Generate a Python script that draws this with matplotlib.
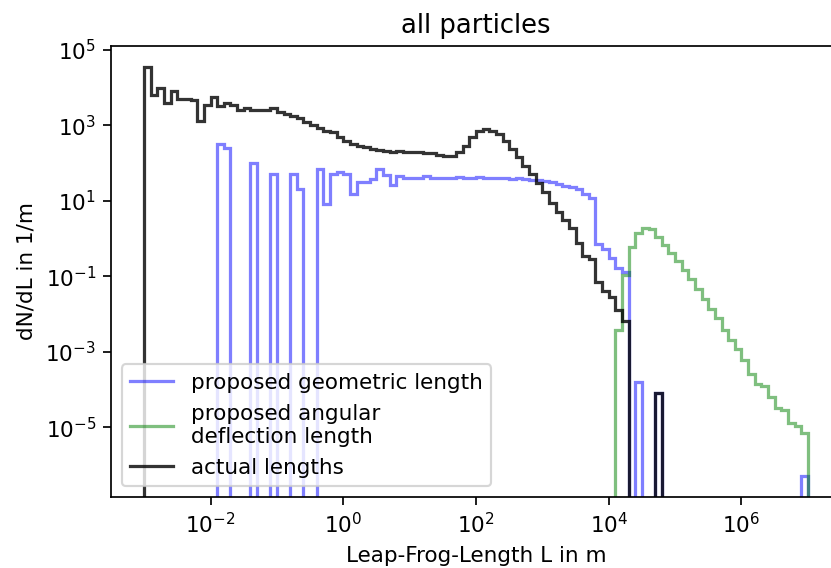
import numpy as np
import matplotlib
matplotlib.use("Agg")
from matplotlib import pyplot as plt
from matplotlib.ticker import NullLocator

# log-spaced bins, 10 per decade from 1 mm to 10000 km
edges = np.logspace(-3, 7, 101)

# dN/dL per bin (1/m), 100 bins each
actual = [
    3.6e4, 6.2e3, 1.0e4, 3.9e3, 8.3e3, 5.1e3, 5.0e3, 4.6e3, 1.3e3, 3.5e3,
    5.5e3, 3.2e3, 3.9e3, 3.5e3, 2.6e3, 2.8e3, 2.6e3, 2.5e3, 2.5e3, 2.9e3,
    2.3e3, 2.0e3, 1.8e3, 1.6e3, 1.2e3, 1.0e3, 8.5e2, 7.2e2, 6.6e2, 5.0e2,
    3.8e2, 3.2e2, 2.8e2, 2.6e2, 2.3e2, 2.2e2, 2.1e2, 1.9e2, 2.1e2, 2.0e2,
    1.95e2, 1.9e2, 1.8e2, 1.8e2, 1.6e2, 1.5e2, 1.55e2, 1.9e2, 2.8e2, 5.0e2,
    7.2e2, 8.1e2, 7.2e2, 5.8e2, 3.8e2, 2.4e2, 1.45e2, 85, 52, 30,
    17, 8.7, 4.9, 3.0, 1.9, 0.76, 0.35, 0.28, 0.069, 0.040,
    0.028, 0.013, 0.0065, 0, 0, 0, 0, 7.9e-5, 0, 0,
    0, 0, 0, 0, 0, 0, 0, 0, 0, 0,
    0, 0, 0, 0, 0, 0, 0, 0, 0, 0,
]

geometric = [
    0, 0, 0, 0, 0, 0, 0, 0, 0, 0,
    0, 320, 257, 0, 0, 0, 102, 0, 0, 50,
    0, 0, 50, 20, 0, 0, 69, 8.1, 52, 58,
    52, 15, 32, 32, 37, 71, 48, 26, 44, 40,
    40, 40, 46, 40, 39, 39, 39, 43, 40, 40,
    42, 40, 41, 39, 40, 38, 39, 37, 35, 35,
    34, 32, 28, 25, 23, 20, 15, 12, 0.71, 0.54,
    0.30, 0.17, 0.13, 0, 1.55e-4, 0, 0, 7.9e-5, 0, 0,
    0, 0, 0, 0, 0, 0, 0, 0, 0, 0,
    0, 0, 0, 0, 0, 0, 0, 0, 0, 5.0e-7,
]

angular = [
    0, 0, 0, 0, 0, 0, 0, 0, 0, 0,
    0, 0, 0, 0, 0, 0, 0, 0, 0, 0,
    0, 0, 0, 0, 0, 0, 0, 0, 0, 0,
    0, 0, 0, 0, 0, 0, 0, 0, 0, 0,
    0, 0, 0, 0, 0, 0, 0, 0, 0, 0,
    0, 0, 0, 0, 0, 0, 0, 0, 0, 0,
    0, 0, 0, 0, 0, 0, 0, 0, 0, 0,
    0, 3.7e-3, 0.107, 0.59, 1.41, 1.95, 1.78, 1.12, 0.69, 0.41,
    0.25, 0.148, 0.085, 0.047, 0.025, 0.0138, 7.6e-3, 3.7e-3, 2.0e-3, 1.2e-3,
    6.0e-4, 2.6e-4, 1.38e-4, 1.23e-4, 6.5e-5, 3.3e-5, 2.9e-5, 1.32e-5, 1.05e-5, 6.9e-6,
]

DPI = 155
fig = plt.figure(figsize=(831 / DPI, 568 / DPI), dpi=DPI)
ax = fig.add_axes([111 / 831, 71 / 568, 730 / 831, 451 / 568])

ax.stairs(geometric, edges, color="b", alpha=0.5, linewidth=1.5,
          label="proposed geometric length")
ax.stairs(angular, edges, color="g", alpha=0.5, linewidth=1.5,
          label="proposed angular\ndeflection length")
ax.stairs(actual, edges, color="k", alpha=0.8, linewidth=1.5,
          label="actual lengths")

ax.set_xscale("log")
ax.set_yscale("log")
ax.set_xlim(10 ** -3.5, 10 ** 7.5)
ax.set_ylim(10 ** -6.85, 10 ** 5.1)
ax.set_xticks([1e-2, 1e0, 1e2, 1e4, 1e6])
ax.set_yticks([1e-5, 1e-3, 1e-1, 1e1, 1e3, 1e5])
ax.xaxis.set_minor_locator(NullLocator())
ax.yaxis.set_minor_locator(NullLocator())

ax.set_xlabel("Leap-Frog-Length L in m")
ax.set_ylabel("dN/dL in 1/m")
ax.set_title("all particles")
ax.legend(loc="lower left")

fig.savefig("out.png", dpi=DPI)
